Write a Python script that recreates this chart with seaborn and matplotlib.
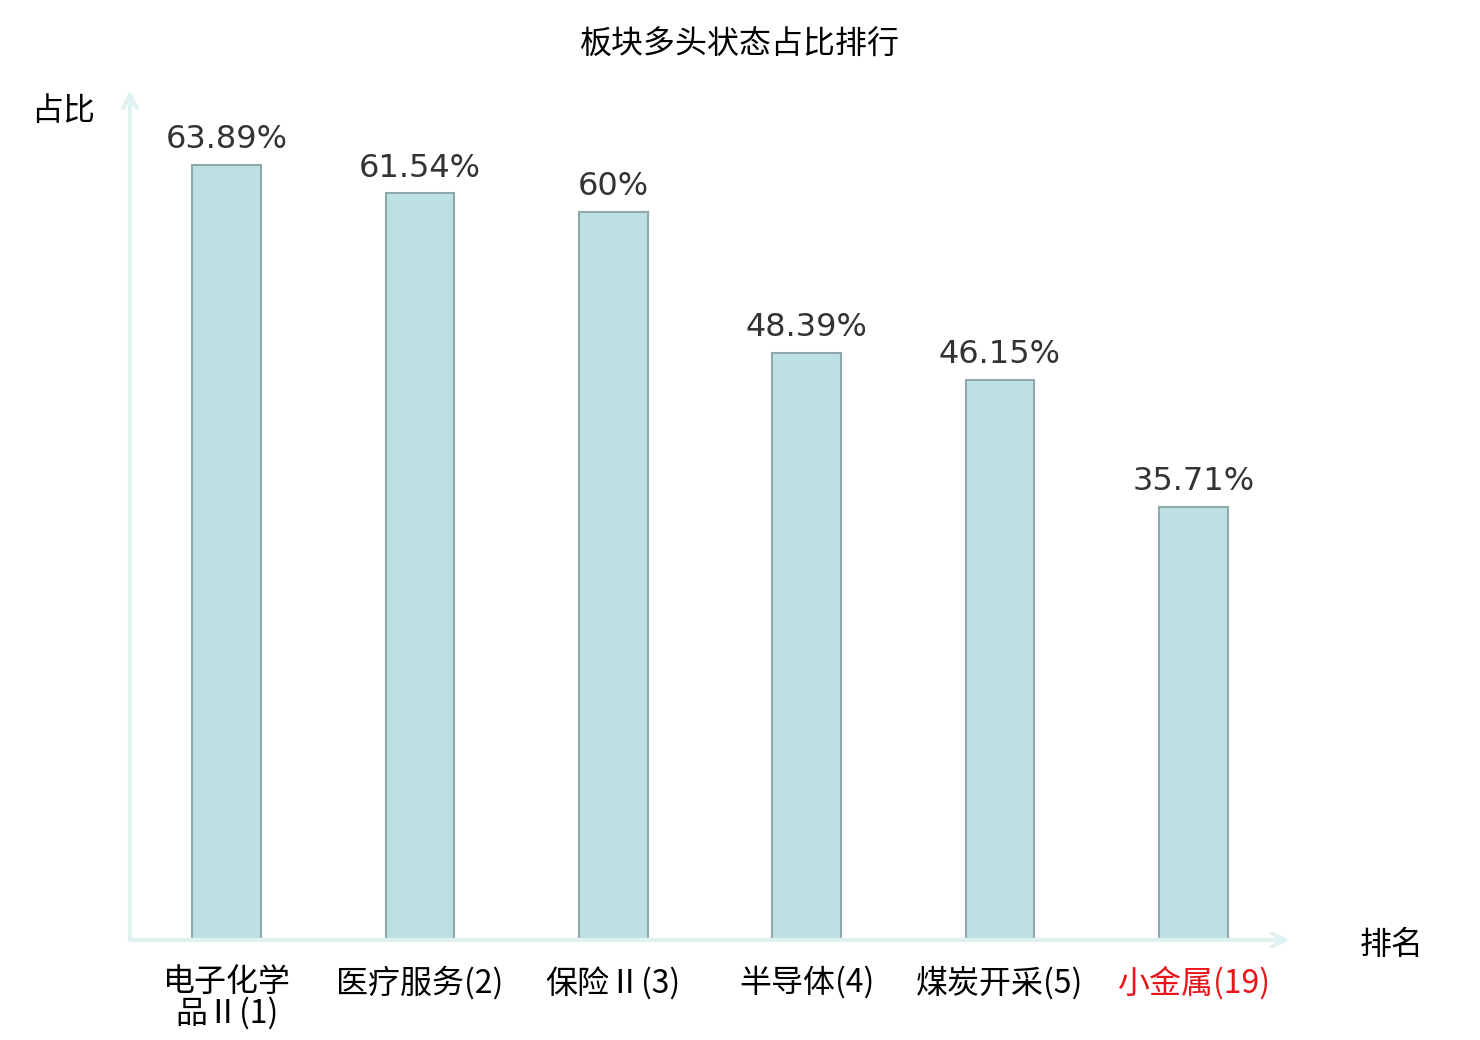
import pandas as pd
import matplotlib
matplotlib.use('Agg')
import matplotlib.pyplot as plt
import seaborn as sns

# data
sectors = ['电子化学\n品Ⅱ(1)', '医疗服务(2)', '保险Ⅱ(3)', '半导体(4)', '煤炭开采(5)', '小金属(19)']
ratios = [63.89, 61.54, 60, 48.39, 46.15, 35.71]
value_labels = ['63.89%', '61.54%', '60%', '48.39%', '46.15%', '35.71%']
label_colors = ['#000000', '#000000', '#000000', '#000000', '#000000', '#e8161b']

sns.set_theme(style='white')
plt.rcParams['font.family'] = ['Noto Sans CJK SC', 'DejaVu Sans']

df = pd.DataFrame({'sector': sectors, 'ratio': ratios})

fig = plt.figure(figsize=(14.8, 10.4), dpi=100)
ax = fig.add_axes([0.0878, 0.0962, 0.7838, 0.8173])

sns.barplot(data=df, x='sector', y='ratio', ax=ax, width=0.355,
            color='#bce0e3', saturation=1, edgecolor='#8fa8a9', linewidth=1.5)

ax.set_xlim(-0.5, 5.5)
ax.set_ylim(0, 70.07)

# value labels above bars
for i, v in enumerate(ratios):
    ax.annotate(value_labels[i], (i, v), xytext=(0, 7), textcoords='offset points',
                ha='center', va='bottom', fontsize=23, color='#333333',
                family='DejaVu Sans')

for s in ax.spines.values():
    s.set_visible(False)
ax.set_yticks([])
ax.set_xlabel('')
ax.set_ylabel('')
ax.tick_params(axis='x', length=0, pad=19, labelsize=23)
for lab, c in zip(ax.get_xticklabels(), label_colors):
    lab.set_color(c)
    lab.set_linespacing(0.95)

# axis arrows
axis_col = '#dff2ef'
ax.annotate('', xy=(0, 1), xytext=(0, 0), xycoords='axes fraction',
            arrowprops=dict(arrowstyle='->,head_length=0.8,head_width=0.4',
                            color=axis_col, lw=3, shrinkA=0, shrinkB=0),
            annotation_clip=False)
ax.annotate('', xy=(1, 0), xytext=(0, 0), xycoords='axes fraction',
            arrowprops=dict(arrowstyle='->,head_length=0.8,head_width=0.4',
                            color=axis_col, lw=3, shrinkA=0, shrinkB=0),
            annotation_clip=False)

fig.text(0.0426, 0.893, '占比', fontsize=23, ha='center', va='center', color='#000000')
fig.text(0.940, 0.091, '排名', fontsize=23, ha='center', va='center', color='#000000')
fig.text(0.5, 0.957, '板块多头状态占比排行', fontsize=23, ha='center', va='center', color='#000000')

fig.savefig('out.png', dpi=100)
